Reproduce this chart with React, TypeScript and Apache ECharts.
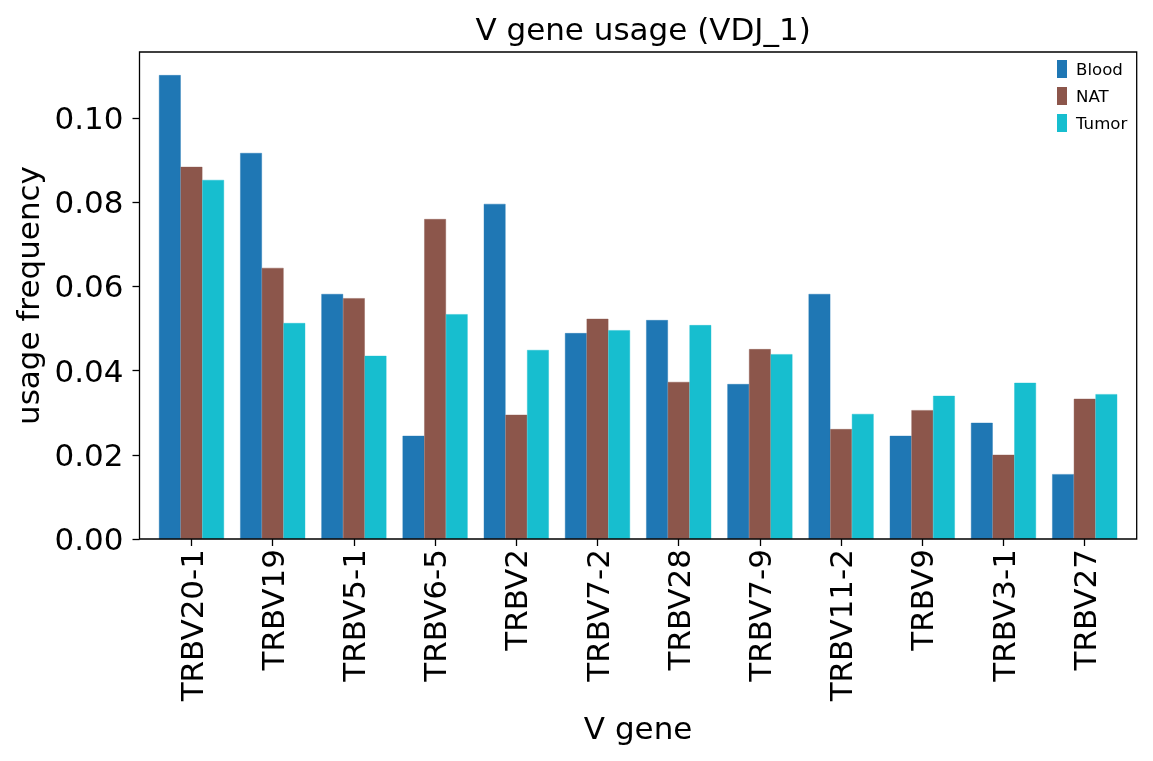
import React, { useEffect, useRef } from "react";
import * as echarts from "echarts";

const categories = ["TRBV20-1", "TRBV19", "TRBV5-1", "TRBV6-5", "TRBV2", "TRBV7-2", "TRBV28", "TRBV7-9", "TRBV11-2", "TRBV9", "TRBV3-1", "TRBV27"];
const blood = [0.1102, 0.0917, 0.0582, 0.0245, 0.0796, 0.0489, 0.052, 0.0368, 0.0582, 0.0245, 0.0276, 0.0154];
const nat = [0.0884, 0.0644, 0.0572, 0.076, 0.0295, 0.0523, 0.0373, 0.0451, 0.0261, 0.0306, 0.02, 0.0333];
const tumor = [0.0853, 0.0513, 0.0435, 0.0534, 0.0449, 0.0496, 0.0508, 0.0439, 0.0297, 0.034, 0.0371, 0.0344];
const yTicks = [0, 0.02, 0.04, 0.06, 0.08, 0.1];

const FONT = "DejaVu Sans";
const FS = 31;

export default function App() {
  const ref = useRef<HTMLDivElement>(null);
  useEffect(() => {
    if (!ref.current) return;
    const chart = echarts.init(ref.current, null, { renderer: "svg" });
    const frameLeft = 139.5;
    const frameRight = 1136.7;
    const top = 52;
    const bottom = 539;
    const band = 81.2;
    const gridLeft = 191.5 - band / 2;
    const gridWidth = band * categories.length;
    const offset = gridLeft - frameLeft;
    const barW = (band * 0.8) / 3;
    const mk = (name: string, data: number[], color: string) => ({
      name,
      type: "bar",
      data,
      barWidth: barW,
      barGap: "0%",
      itemStyle: { color, borderColor: color, borderWidth: 0.4 },
    });
    chart.setOption({
      animation: false,
      textStyle: { fontFamily: FONT },
      title: {
        text: "V gene usage (VDJ_1)",
        left: (frameLeft + frameRight) / 2,
        textAlign: "center",
        top: 8,
        textStyle: { fontFamily: FONT, fontSize: FS, fontWeight: "normal", color: "#000" },
      },
      legend: {
        orient: "vertical",
        left: 1057,
        top: 60,
        padding: 0,
        icon: "rect",
        itemWidth: 8,
        itemHeight: 16,
        itemGap: 9,
        textStyle: { fontFamily: FONT, fontSize: 16.6, color: "#000", padding: [0, 0, 0, 5] },
        data: ["Blood", "NAT", "Tumor"],
      },
      grid: { left: gridLeft, top, width: gridWidth, height: bottom - top },
      xAxis: {
        type: "category",
        data: categories,
        name: "V gene",
        nameLocation: "middle",
        nameGap: 173,
        nameTextStyle: { fontFamily: FONT, fontSize: FS, color: "#000" },
        axisLine: { show: false },
        axisTick: { show: true, alignWithLabel: true, length: 7, lineStyle: { color: "#000", width: 1.3 } },
        axisLabel: { rotate: 90, fontFamily: FONT, fontSize: FS, color: "#000", margin: 10, interval: 0 },
        splitLine: { show: false },
      },
      yAxis: {
        type: "value",
        min: 0,
        max: 0.1157,
        offset,
        name: "usage frequency",
        nameLocation: "middle",
        nameGap: 94,
        nameTextStyle: { fontFamily: FONT, fontSize: FS, color: "#000" },
        axisLine: { show: false },
        axisTick: { show: true, length: 7, lineStyle: { color: "#000", width: 1.3 }, customValues: yTicks },
        axisLabel: {
          fontFamily: FONT,
          fontSize: FS,
          color: "#000",
          margin: 16,
          customValues: yTicks,
          formatter: (v: number) => v.toFixed(2),
        },
        splitLine: { show: false },
      },
      graphic: [
        {
          type: "rect",
          z: 100,
          silent: true,
          shape: { x: frameLeft, y: top, width: frameRight - frameLeft, height: bottom - top },
          style: { fill: "none", stroke: "#000", lineWidth: 1.3 },
        },
      ],
      series: [mk("Blood", blood, "#1f77b4"), mk("NAT", nat, "#8c564b"), mk("Tumor", tumor, "#17becf")],
    });
    return () => chart.dispose();
  }, []);
  return <div ref={ref} style={{ position: "fixed", left: 0, top: 0, width: 1153, height: 761 }} />;
}
